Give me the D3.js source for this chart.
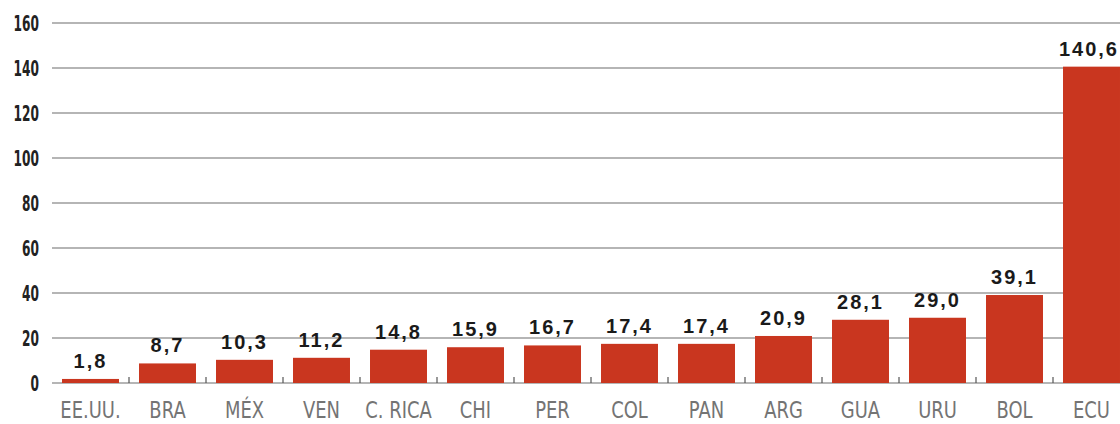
<!DOCTYPE html>
<html>
<head>
<meta charset="utf-8">
<script src="https://cdn.jsdelivr.net/npm/d3@7"></script>
<style>
  body { margin: 0; background: #fff; }
  .grid line { stroke: #9c9c9c; stroke-width: 1.5; }
  .yLabel { font-family: "DejaVu Sans", sans-serif; font-weight: bold; font-size: 21px; fill: #222; text-anchor: end; }
  .catLabel { font-family: "DejaVu Sans", sans-serif; font-size: 23px; fill: #747474; text-anchor: middle; }
  .valLabel { font-family: "Liberation Sans", Arial, sans-serif; font-weight: bold; font-size: 20px; fill: #1a1a1a; text-anchor: middle; letter-spacing: 2px; }
  .bar { fill: #c9361f; }
  .tick { stroke: #555; stroke-width: 1.2; }
</style>
</head>
<body>
<div id="chart"></div>
<script>
// categories and values
var countries = ["EE.UU.", "BRA", "MÉX", "VEN", "C. RICA", "CHI", "PER", "COL", "PAN", "ARG", "GUA", "URU", "BOL", "ECU"];
var values = [1.8, 8.7, 10.3, 11.2, 14.8, 15.9, 16.7, 17.4, 17.4, 20.9, 28.1, 29.0, 39.1, 140.6];
var yTicks = [0, 20, 40, 60, 80, 100, 120, 140, 160];

var width = 1120, height = 424;
var margin = {top: 23, left: 52, bottom: 41};

var svg = d3.select("#chart").append("svg")
    .attr("width", width)
    .attr("height", height);

var y = d3.scaleLinear()
    .domain([0, 160])
    .range([height - margin.bottom, margin.top]);

// band scale runs a bit past the right edge, the last bar is cut like in the print
var x = d3.scaleBand()
    .domain(countries)
    .range([margin.left, margin.left + countries.length * 77])
    .paddingInner(0.26)
    .paddingOuter(0.13);

//gridlines
svg.append("g")
    .attr("class", "grid")
    .selectAll("line")
    .data(yTicks)
    .enter()
    .append("line")
    .attr("x1", margin.left)
    .attr("x2", width)
    .attr("y1", function(d){ return y(d); })
    .attr("y2", function(d){ return y(d); });

// condensed look: squeeze the text horizontally
svg.append("g")
    .selectAll("text")
    .data(yTicks)
    .enter()
    .append("text")
    .attr("class", "yLabel")
    .attr("transform", function(d){ return "translate(39," + (y(d) + 8) + ") scale(0.58,1)"; })
    .text(function(d){ return d; });

//little ticks between the bars
var step = x.step();
svg.append("g")
    .selectAll("line")
    .data(countries.slice(1))
    .enter()
    .append("line")
    .attr("class", "tick")
    .attr("x1", function(d){ return x(d) - step * x.paddingInner() / 2; })
    .attr("x2", function(d){ return x(d) - step * x.paddingInner() / 2; })
    .attr("y1", y(0))
    .attr("y2", y(0) - 6);

svg.append("g")
    .selectAll("rect")
    .data(values)
    .enter()
    .append("rect")
    .attr("class", "bar")
    .attr("x", function(d, i){ return x(countries[i]); })
    .attr("width", x.bandwidth())
    .attr("y", function(d){ return y(d); })
    .attr("height", function(d){ return y(0) - y(d); });

svg.append("g")
    .selectAll("text")
    .data(values)
    .enter()
    .append("text")
    .attr("class", "valLabel")
    .attr("x", function(d, i){ return x(countries[i]) + x.bandwidth() / 2; })
    .attr("y", function(d){ return y(d) - 11; })
    .text(function(d){ return d.toFixed(1).replace(".", ","); })
    .each(function(){
        // keep the last label inside the page
        var box = this.getBBox();
        if (box.x + box.width > width - 1) {
            d3.select(this).attr("x", +d3.select(this).attr("x") - (box.x + box.width - width + 1));
        }
    });

svg.append("g")
    .selectAll("text")
    .data(countries)
    .enter()
    .append("text")
    .attr("class", "catLabel")
    .attr("transform", function(d){ return "translate(" + (x(d) + x.bandwidth() / 2) + ",418) scale(0.78,1)"; })
    .text(function(d){ return d; });
</script>
</body>
</html>
